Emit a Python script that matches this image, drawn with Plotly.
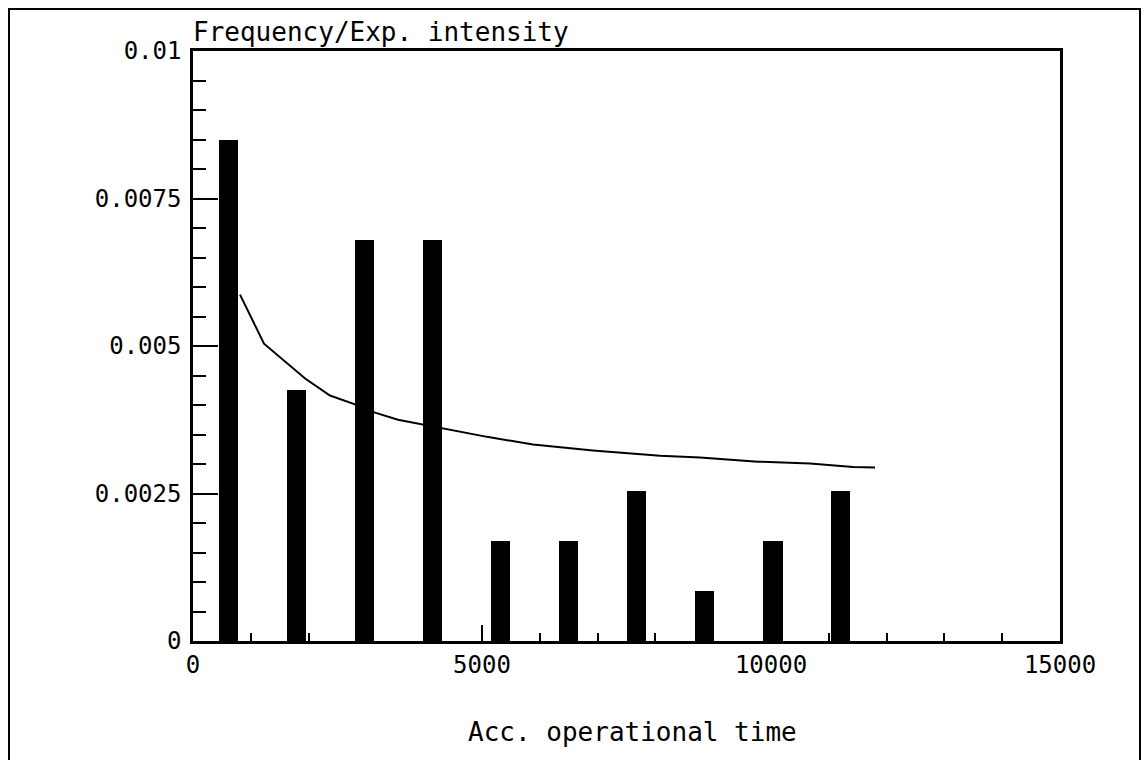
import plotly.graph_objects as go

# Failure frequency per time interval (bars) and fitted intensity curve
interval_mid = [610, 1790, 2965, 4145, 5320, 6500, 7680, 8855, 10035, 11210]
frequency = [0.0085, 0.00425, 0.0068, 0.0068, 0.0017, 0.0017, 0.00255, 0.00085, 0.0017, 0.00255]

curve_t = [813, 1228, 1940, 2370, 2803, 3149, 3547, 3979, 4325, 4740, 5087, 5882,
           6401, 6920, 8080, 8772, 9775, 10675, 11419, 11800]
curve_int = [0.00587, 0.00504, 0.00445, 0.00416, 0.00401, 0.00387, 0.00375, 0.00367,
             0.00360, 0.00353, 0.00346, 0.00333, 0.00328, 0.00323, 0.00314, 0.00311,
             0.00304, 0.00301, 0.00295, 0.00294]

x_ticks = [0, 5000, 10000, 15000]
x_tick_text = ["0", "5000", "10000", "15000"]
y_ticks = [0, 0.0025, 0.005, 0.0075, 0.01]
y_tick_text = ["0", "0.0025", "0.005", "0.0075", "0.01"]

FONT = "DejaVu Sans Mono"

fig = go.Figure()
fig.add_trace(go.Bar(x=interval_mid, y=frequency, width=330,
                     marker=dict(color="black", line=dict(width=0))))
fig.add_trace(go.Scatter(x=curve_t, y=curve_int, mode="lines",
                         line=dict(color="black", width=2)))

L, R, T, B = 193, 1060, 51, 641
W, H = 1144, 760

fig.update_layout(
    width=W, height=H,
    margin=dict(l=L, r=W - R, t=T, b=H - B),
    paper_bgcolor="white", plot_bgcolor="white",
    showlegend=False,
    bargap=0,
    font=dict(family=FONT, size=24, color="black"),
)

fig.update_xaxes(
    range=[0, 15000], showgrid=False, zeroline=False,
    showline=True, linecolor="black", linewidth=2.5, mirror=True,
    tickmode="array", tickvals=x_ticks, ticktext=x_tick_text,
    ticks="inside", ticklen=16, tickwidth=2, tickcolor="black",
    tickfont=dict(family=FONT, size=24),
    minor=dict(tickmode="linear", tick0=0, dtick=1000, ticks="inside",
               ticklen=8, tickwidth=2, tickcolor="black", showgrid=False),
)
fig.update_yaxes(
    range=[0, 0.01], showgrid=False, zeroline=False,
    showline=True, linecolor="black", linewidth=2.5, mirror=True,
    tickmode="array", tickvals=y_ticks, ticktext=y_tick_text,
    ticks="inside", ticklen=25, tickwidth=2, tickcolor="black",
    tickfont=dict(family=FONT, size=24),
    ticklabelstandoff=4,
    minor=dict(tickmode="linear", tick0=0, dtick=0.0005, ticks="inside",
               ticklen=13, tickwidth=2, tickcolor="black", showgrid=False),
)

pw, ph = R - L, B - T

def px(x):
    return (x - L) / pw

def py(y):
    return (B - y) / ph

# Outer frame around the whole sheet
fig.add_shape(type="rect", xref="paper", yref="paper",
              x0=px(9), x1=px(1140), y0=py(766), y1=py(9),
              line=dict(color="black", width=2), fillcolor="rgba(0,0,0,0)",
              layer="below")

fig.add_annotation(text="Frequency/Exp. intensity", xref="paper", yref="paper",
                   x=px(191), y=py(49), xanchor="left", yanchor="bottom",
                   showarrow=False, font=dict(family=FONT, size=26))
fig.add_annotation(text="Acc. operational time", xref="paper", yref="paper",
                   x=px(632), y=py(732), xanchor="center", yanchor="middle",
                   showarrow=False, font=dict(family=FONT, size=26))

fig.write_html("out.html")
